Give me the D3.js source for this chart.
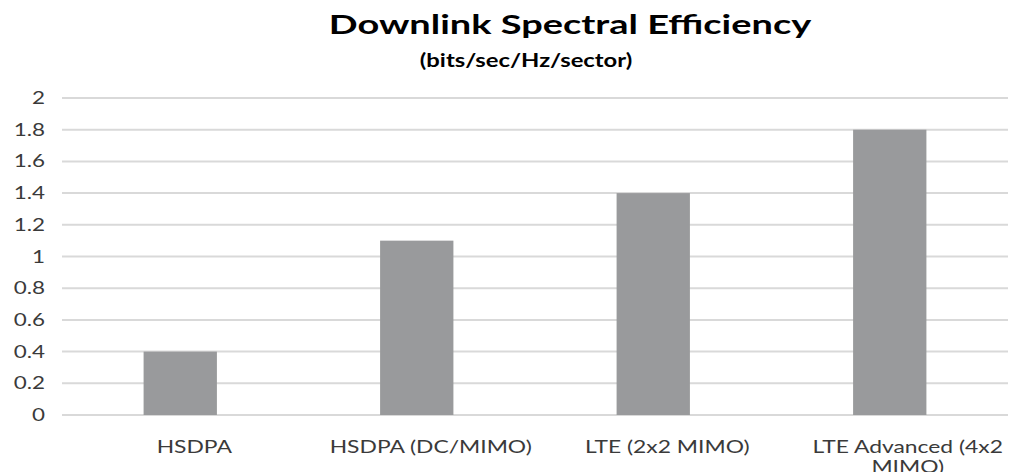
<!DOCTYPE html>
<html><head><meta charset="utf-8">
<script src="https://cdn.jsdelivr.net/npm/d3@7"></script>
<style>html,body{margin:0;padding:0;background:#fff;} svg{display:block;}</style>
</head><body>
<svg id="chart" width="1011" height="472"></svg>
<script>
const categories = ["HSDPA", "HSDPA (DC/MIMO)", "LTE (2x2 MIMO)", "LTE Advanced (4x2 MIMO)"];
const values = [0.4, 1.1, 1.4, 1.8];
const yTicks = [0, 0.2, 0.4, 0.6, 0.8, 1, 1.2, 1.4, 1.6, 1.8, 2];
const titleText = "Downlink Spectral Efficiency";
const subtitleText = "(bits/sec/Hz/sector)";

const W = 1011, H = 472;
const m = {left: 62, right: 3, top: 98, bottom: 57};
const SX = 1.36; // horizontal stretch of text seen in the reference
const font = "Lato, 'Open Sans', sans-serif";
const svg = d3.select("#chart");

const x = d3.scaleBand().domain(categories).range([m.left, W - m.right])
  .paddingInner(0.69).paddingOuter(0.345);
const y = d3.scaleLinear().domain([0, 2]).range([H - m.bottom, m.top]);

// gridlines
svg.append("g").selectAll("line").data(yTicks).join("line")
  .attr("x1", m.left).attr("x2", W - m.right)
  .attr("y1", d => y(d)).attr("y2", d => y(d))
  .attr("stroke", "#d9d9d9").attr("stroke-width", 2);

// bars
svg.append("g").selectAll("rect").data(values).join("rect")
  .attr("x", (d, i) => x(categories[i]))
  .attr("y", d => y(d))
  .attr("width", x.bandwidth())
  .attr("height", d => y(0) - y(d))
  .attr("fill", "#999a9c");

function stretchedText(parent, tx, ty, lines, opts) {
  const g = parent.append("g").attr("transform", `translate(${tx},${ty})`);
  const t = g.append("text").attr("transform", `scale(${opts.sx || SX},1)`)
    .attr("text-anchor", opts.anchor || "middle")
    .attr("font-family", font).attr("font-size", opts.size)
    .attr("font-weight", opts.weight || "normal")
    .attr("fill", opts.fill || "#404040");
  lines.forEach((l, i) => t.append("tspan").attr("x", 0).attr("dy", i === 0 ? 0 : opts.lh || 0).text(l));
  return g;
}

// y tick labels
const yAxisG = svg.append("g");
yTicks.forEach(t => {
  stretchedText(yAxisG, 45, y(t) + 6, [d3.format("")(t)], {size: 16.5, anchor: "end", fill: "#3a3a3a"});
});

// x labels (wrap long ones like Excel)
const xAxisG = svg.append("g");
const wrapped = {"LTE Advanced (4x2 MIMO)": ["LTE Advanced (4x2", "MIMO)"]};
categories.forEach(c => {
  const lines = wrapped[c] || [c];
  const cx = x(c) + x.bandwidth() / 2 + (lines.length > 1 ? 18 : 14);
  stretchedText(xAxisG, cx, 453, lines, {size: 16.8, lh: 20, fill: "#3a3a3a"});
});

// titles
stretchedText(svg, 570, 34, [titleText], {size: 27.5, weight: "bold", fill: "#000", sx: 1.38});
stretchedText(svg, 526, 67, [subtitleText], {size: 18.3, weight: "bold", fill: "#000", sx: 1.3});
</script>
</body></html>
